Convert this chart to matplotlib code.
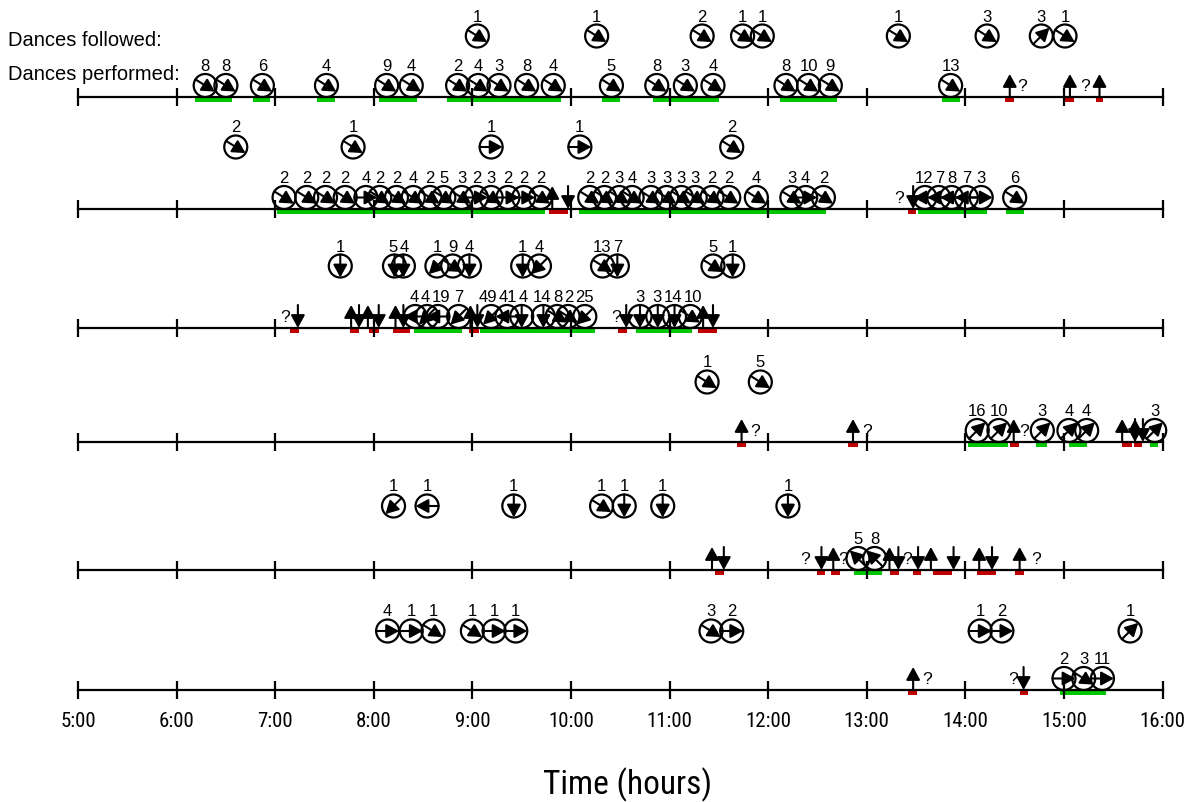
import math
import matplotlib
matplotlib.use('Agg')
import matplotlib.pyplot as plt
from matplotlib import font_manager
from matplotlib.patches import Ellipse

# Heures de chaque ligne (une ligne = un individu)
followed_t = [
    [9.05, 10.26, 11.33, 11.74, 11.94, 13.32, 14.22, 14.77, 15.01],
    [6.60, 7.79, 9.19, 10.09, 11.63],
    [7.66, 8.21, 8.30, 8.64, 8.80, 8.97, 9.51, 9.68, 10.32, 10.47, 11.44, 11.64],
    [11.38, 11.92],
    [8.20, 8.54, 9.42, 10.31, 10.54, 10.93, 12.20],
    [8.14, 8.38, 8.60, 9.00, 9.22, 9.44, 11.42, 11.63, 14.15, 14.37, 15.67],
]
followed_n = [
    [1, 1, 2, 1, 1, 1, 3, 3, 1],
    [2, 1, 1, 1, 2],
    [1, 5, 4, 1, 9, 4, 1, 4, 13, 7, 5, 1],
    [1, 5],
    [1, 1, 1, 1, 1, 1, 1],
    [4, 1, 1, 1, 1, 1, 3, 2, 1, 2, 1],
]
followed_dir = [
    ['SE', 'SE', 'SE', 'SE', 'SE', 'SE', 'SE', 'NE', 'SE'],
    ['SE', 'SE', 'E', 'E', 'SE'],
    ['S', 'S', 'S', 'SW', 'SE', 'S', 'S', 'SW', 'SE', 'S', 'SE', 'S'],
    ['SE', 'SE'],
    ['SW', 'W', 'S', 'SE', 'S', 'S', 'S'],
    ['E', 'E', 'SE', 'SE', 'E', 'E', 'SE', 'E', 'E', 'E', 'NE'],
]

performed_t = [
    [6.29, 6.50, 6.87, 7.52, 8.13, 8.38, 8.85, 9.06, 9.27, 9.55, 9.82,
     10.41, 10.87, 11.16, 11.44, 12.18, 12.41, 12.63, 13.85],
    [7.09, 7.32, 7.51, 7.71, 7.92, 8.06, 8.23, 8.40, 8.57, 8.71, 8.89,
     9.04, 9.19, 9.36, 9.52, 9.69, 10.19, 10.34, 10.49, 10.62, 10.81,
     10.97, 11.12, 11.26, 11.43, 11.60, 11.88, 12.24, 12.38, 12.56,
     13.59, 13.73, 13.86, 14.01, 14.16, 14.50],
    [8.42, 8.54, 8.65, 8.86, 9.19, 9.35, 9.50, 9.72, 9.86, 9.97, 10.14,
     10.70, 10.88, 11.05, 11.21],
    [14.12, 14.34, 14.78, 15.05, 15.23, 15.92],
    [12.91, 13.08],
    [15.00, 15.20, 15.39],
]
performed_n = [
    [8, 8, 6, 4, 9, 4, 2, 4, 3, 8, 4, 5, 8, 3, 4, 8, 10, 9, 13],
    [2, 2, 2, 2, 4, 2, 2, 4, 2, 5, 3, 2, 3, 2, 2, 2,
     2, 2, 3, 4, 3, 3, 3, 3, 2, 2, 4, 3, 4, 2, 12, 7, 8, 7, 3, 6],
    [4, 4, 19, 7, 49, 41, 4, 14, 8, 2, 25, 3, 3, 14, 10],
    [16, 10, 3, 4, 4, 3],
    [5, 8],
    [2, 3, 11],
]
performed_dir = [
    ['SE'] * 19,
    ['SE', 'SE', 'SE', 'SE', 'E', 'SE', 'SE', 'SE', 'SE', 'SE', 'SE',
     'E', 'SE', 'E', 'E', 'SE', 'SE', 'SE', 'SE', 'SE', 'SE', 'SE', 'SE',
     'SE', 'SE', 'SE', 'SE', 'SE', 'E', 'SE', 'W', 'W', 'W', 'W', 'E', 'SE'],
    ['W', 'SW', 'W', 'SW', 'SW', 'W', 'S', 'S', 'SE', 'SE', 'SW',
     'S', 'S', 'S', 'SE'],
    ['NE'] * 6,
    ['NW', 'NW'],
    ['E', 'SE', 'E'],
]

# Périodes de danse (vert) et périodes d'absence / incertaines (rouge)
green_spans = [
    [(6.19, 6.56), (6.77, 6.95), (7.42, 7.61), (8.05, 8.44), (8.74, 9.90),
     (10.31, 10.50), (10.83, 11.50), (12.12, 12.70), (13.76, 13.95)],
    [(7.02, 9.74), (10.08, 12.59), (13.52, 14.22), (14.41, 14.59)],
    [(8.41, 8.89), (9.08, 10.24), (10.66, 11.23)],
    [(14.03, 14.43), (14.72, 14.83), (15.05, 15.23), (15.87, 15.95)],
    [(12.87, 13.15)],
    [(14.96, 15.43)],
]
red_spans = [
    [(14.40, 14.49), (15.01, 15.10), (15.32, 15.40)],
    [(9.78, 9.97), (13.42, 13.50)],
    [(7.15, 7.24), (7.76, 7.85), (7.95, 8.05), (8.19, 8.37), (8.97, 9.07),
     (10.48, 10.57), (11.29, 11.48)],
    [(11.68, 11.77), (12.81, 12.91), (14.45, 14.54), (15.59, 15.69),
     (15.71, 15.79)],
    [(11.46, 11.55), (12.49, 12.58), (12.64, 12.73), (13.24, 13.33),
     (13.47, 13.55), (13.67, 13.86), (14.12, 14.31), (14.50, 14.59)],
    [(13.42, 13.51), (14.55, 14.63)],
]

# Sorties (flèche vers le haut) et retours (flèche vers le bas)
up_t = [
    [14.45, 15.06, 15.36],
    [9.81],
    [7.77, 7.94, 8.22, 8.98, 11.34],
    [11.73, 12.86, 14.49, 15.59, 15.72],
    [11.43, 12.66, 13.23, 13.65, 14.14, 14.55],
    [13.47],
]
down_t = [
    [],
    [9.97, 13.47],
    [7.23, 7.85, 8.05, 8.30, 9.05, 10.56, 11.44],
    [15.72, 15.80],
    [11.55, 12.54, 13.32, 13.52, 13.88, 14.27],
    [14.59],
]
question_t = [
    [14.58, 15.21],
    [13.33],
    [7.10, 10.46],
    [11.87, 13.00, 14.60],
    [12.37, 12.76, 13.41, 14.72],
    [13.61, 14.48],
]

hours = list(range(5, 17))
hour_labels = ['%d:00' % h for h in hours]

# Mise en page (pixels)
W, H = 1196, 803
PPH = 98.6          # pixels par heure
X0 = 5 - 78 / PPH
line_y = [98, 210, 329, 443, 571, 691]
follow_y = [37, 148, 267, 383, 507, 632]
R = 11.5
NUM_FS = 12
DIGIT_PX = 0.556 * NUM_FS * 100 / 72

angles = {'E': 0, 'NE': 45, 'N': 90, 'NW': 135, 'W': 180,
          'SW': -135, 'S': -90, 'SE': -32}

# police étroite pour l'axe des temps si disponible
names = {f.name for f in font_manager.fontManager.ttflist}
NARROW = None
for cand in ['Liberation Sans Narrow', 'Arial Narrow', 'Roboto Condensed',
             'Open Sans Condensed', 'DejaVu Sans Condensed']:
    if cand in names:
        NARROW = cand
        break
if NARROW:
    tick_kw = dict(family=NARROW, fontsize=15)
    title_kw = dict(family=NARROW, fontsize=24)
else:
    tick_kw = dict(family='Liberation Sans', fontsize=13.5)
    title_kw = dict(family='Liberation Sans', fontsize=22)

plt.rcParams['font.family'] = ['Liberation Sans', 'DejaVu Sans']

fig = plt.figure(figsize=(W / 100, H / 100), dpi=100)
ax = fig.add_axes([0, 0, 1, 1])
ax.set_xlim(X0, X0 + W / PPH)
ax.set_ylim(H, 0)
ax.axis('off')


def arrow(x0, y0, x1, y1):
    ax.annotate('', xy=(x1, y1), xytext=(x0, y0),
                arrowprops=dict(arrowstyle='-|>,head_length=0.55,head_width=0.3',
                                lw=1.5, color='black', shrinkA=0, shrinkB=0,
                                mutation_scale=14), zorder=5)


def spread(ts, ns):
    # écarte un peu les étiquettes qui se chevauchent
    xs = [t * PPH for t in ts]
    half = [len(str(n)) * DIGIT_PX / 2 + 0.8 for n in ns]
    for _ in range(30):
        moved = False
        for k in range(len(xs) - 1):
            gap = xs[k + 1] - xs[k] - (half[k] + half[k + 1])
            if gap < 0:
                xs[k] += gap / 2
                xs[k + 1] -= gap / 2
                moved = True
        if not moved:
            break
    return [x / PPH for x in xs]


def dances(ts, y, ns, ds):
    for t, d in zip(ts, ds):
        ax.add_patch(Ellipse((t, y), 2 * R / PPH, 2 * R, fill=False,
                             lw=1.6, ec='black', zorder=4))
        a = math.radians(angles[d])
        dx = R * math.cos(a) / PPH
        dy = R * math.sin(a)
        arrow(t - dx, y + dy, t + dx, y - dy)
    for tl, n in zip(spread(ts, ns), ns):
        ax.text(tl, y - R - 1, str(n), ha='center', va='bottom', fontsize=NUM_FS)


for i, y in enumerate(line_y):
    ax.plot([5, 16], [y, y], color='black', lw=1.6, zorder=3)
    ax.vlines(hours, y - 9, y + 9, color='black', lw=1.6, zorder=3)
    ax.broken_barh([(s, e - s) for s, e in green_spans[i]], (y, 5),
                   facecolor='#00c800', zorder=2)
    ax.broken_barh([(s, e - s) for s, e in red_spans[i]], (y, 5),
                   facecolor='#c00000', zorder=2)
    for t in up_t[i]:
        arrow(t, y, t, y - 23)
    for t in down_t[i]:
        arrow(t, y - 23, t, y)
    for t in question_t[i]:
        ax.text(t, y - 4, '?', ha='center', va='bottom', fontsize=12.5)
    dances(performed_t[i], y - R, performed_n[i], performed_dir[i])
    dances(followed_t[i], follow_y[i], followed_n[i], followed_dir[i])

ax.text(X0 + 8 / PPH, 40, 'Dances followed:', ha='left', va='center', fontsize=14.5)
ax.text(X0 + 8 / PPH, 74, 'Dances performed:', ha='left', va='center', fontsize=14.5)

for h, lab in zip(hours, hour_labels):
    ax.text(h, 722, lab, ha='center', va='center', **tick_kw)
ax.text(10.57, 785, 'Time (hours)', ha='center', va='center', **title_kw)

fig.savefig('out.png', dpi=100)
